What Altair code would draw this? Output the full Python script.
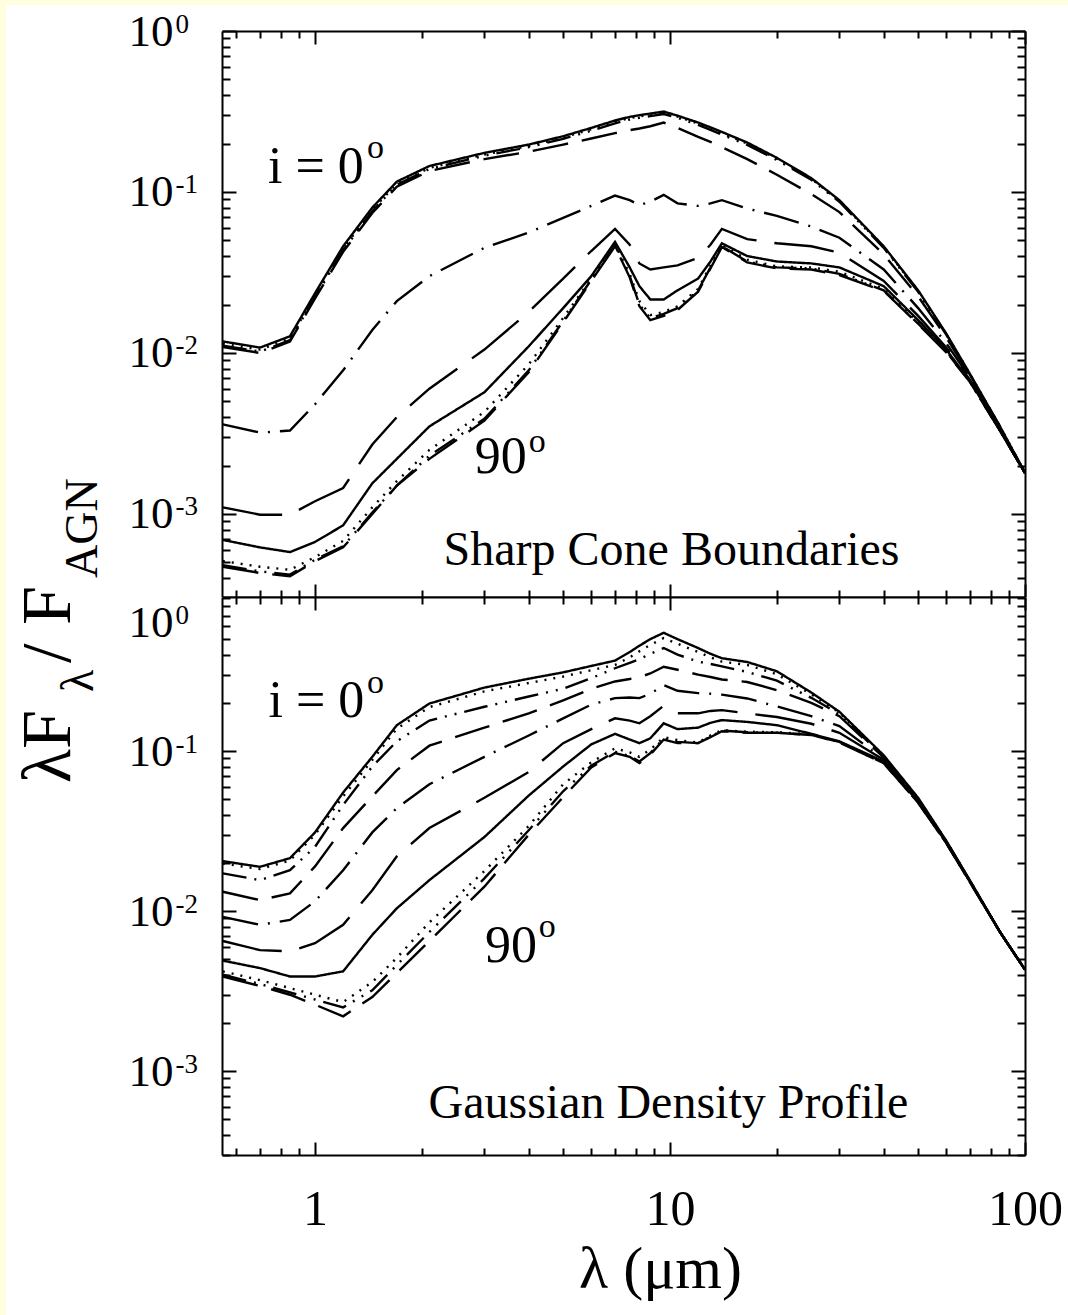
import altair as alt
import pandas as pd

SERIF = "Liberation Serif"

# ---------------- data ----------------
wavelength = [0.55, 0.7, 0.85, 1.0, 1.2, 1.45, 1.7, 2.1, 3.0, 4.0, 5.0, 6.0, 7.0, 7.7, 8.2, 8.8,
              9.6, 10.5, 12.0, 13.0, 14.0, 16.5, 20.0, 25.0, 30.0, 40.0, 50.0, 60.0, 70.0, 85.0, 100.0]
inclinations = ["0", "10", "20", "30", "40", "50", "60", "70", "80", "90"]

sharp_0 = [0.0118, 0.0108, 0.0127, 0.0235, 0.046, 0.080, 0.116, 0.145, 0.175, 0.197, 0.222, 0.250, 0.278, 0.293, 0.300, 0.307, 0.316, 0.298, 0.270, 0.252, 0.236, 0.203, 0.163, 0.122, 0.089, 0.046, 0.0245, 0.0132, 0.0074, 0.0035, 0.0018]
sharp_10 = [0.0114, 0.0105, 0.0123, 0.0228, 0.0445, 0.0775, 0.113, 0.141, 0.171, 0.193, 0.218, 0.245, 0.273, 0.288, 0.295, 0.302, 0.311, 0.294, 0.266, 0.248, 0.232, 0.200, 0.161, 0.121, 0.088, 0.0455, 0.0243, 0.0131, 0.0074, 0.0035, 0.0018]
sharp_20 = [0.0111, 0.0102, 0.0120, 0.0222, 0.0435, 0.076, 0.111, 0.139, 0.168, 0.190, 0.214, 0.240, 0.267, 0.282, 0.289, 0.296, 0.305, 0.289, 0.261, 0.243, 0.227, 0.196, 0.158, 0.119, 0.087, 0.045, 0.024, 0.013, 0.0073, 0.0035, 0.0018]
sharp_30 = [0.0109, 0.0100, 0.0118, 0.0218, 0.0425, 0.074, 0.108, 0.135, 0.160, 0.178, 0.197, 0.215, 0.232, 0.242, 0.248, 0.256, 0.270, 0.250, 0.220, 0.205, 0.190, 0.160, 0.128, 0.097, 0.075, 0.041, 0.0225, 0.0125, 0.0072, 0.0034, 0.0018]
sharp_40 = [0.0036, 0.0032, 0.0033, 0.0048, 0.0078, 0.0139, 0.021, 0.030, 0.045, 0.056, 0.069, 0.082, 0.095, 0.089, 0.083, 0.087, 0.096, 0.085, 0.082, 0.085, 0.089, 0.079, 0.071, 0.061, 0.052, 0.033, 0.019, 0.0115, 0.0070, 0.0034, 0.0018]
sharp_50 = [0.0011, 0.00099, 0.00099, 0.0012, 0.00145, 0.0027, 0.0040, 0.0060, 0.0105, 0.018, 0.029, 0.043, 0.059, 0.047, 0.036, 0.033, 0.034, 0.035, 0.039, 0.047, 0.059, 0.051, 0.048, 0.046, 0.042, 0.028, 0.017, 0.0108, 0.0068, 0.0033, 0.0018]
sharp_60 = [0.00069, 0.00062, 0.00058, 0.00067, 0.00085, 0.00155, 0.0022, 0.0035, 0.0057, 0.011, 0.019, 0.030, 0.049, 0.034, 0.026, 0.0215, 0.0215, 0.0245, 0.029, 0.037, 0.048, 0.040, 0.037, 0.036, 0.034, 0.026, 0.016, 0.0105, 0.0067, 0.0033, 0.0018]
sharp_70 = [0.00051, 0.00047, 0.00045, 0.00054, 0.00068, 0.0011, 0.0016, 0.0025, 0.0043, 0.0085, 0.0165, 0.029, 0.047, 0.031, 0.021, 0.0172, 0.018, 0.0195, 0.025, 0.035, 0.047, 0.038, 0.0345, 0.034, 0.032, 0.025, 0.0155, 0.0103, 0.0066, 0.0033, 0.0018]
sharp_80 = [0.00048, 0.00044, 0.00042, 0.00052, 0.00063, 0.00102, 0.0015, 0.0023, 0.0039, 0.0078, 0.0158, 0.0285, 0.0465, 0.030, 0.020, 0.0165, 0.0175, 0.019, 0.0245, 0.034, 0.046, 0.037, 0.034, 0.0335, 0.031, 0.0245, 0.0152, 0.0102, 0.0066, 0.0033, 0.0018]
sharp_90 = [0.00047, 0.00043, 0.00041, 0.00051, 0.00062, 0.00100, 0.0015, 0.0022, 0.0038, 0.0076, 0.0155, 0.028, 0.046, 0.0295, 0.0195, 0.016, 0.017, 0.0185, 0.024, 0.0335, 0.0455, 0.0365, 0.0335, 0.033, 0.0305, 0.0243, 0.0151, 0.0101, 0.0066, 0.0033, 0.0018]

gauss_0 = [0.0205, 0.0189, 0.0214, 0.031, 0.055, 0.092, 0.145, 0.198, 0.249, 0.283, 0.310, 0.340, 0.367, 0.415, 0.455, 0.500, 0.548, 0.500, 0.440, 0.405, 0.380, 0.360, 0.315, 0.232, 0.176, 0.094, 0.051, 0.0275, 0.0155, 0.0074, 0.0043]
gauss_10 = [0.0198, 0.0183, 0.0207, 0.030, 0.052, 0.088, 0.138, 0.188, 0.236, 0.266, 0.292, 0.320, 0.345, 0.385, 0.420, 0.460, 0.508, 0.468, 0.415, 0.385, 0.362, 0.345, 0.302, 0.226, 0.174, 0.093, 0.0505, 0.0274, 0.0155, 0.0074, 0.0043]
gauss_20 = [0.0172, 0.0156, 0.0180, 0.0252, 0.046, 0.080, 0.115, 0.155, 0.189, 0.219, 0.245, 0.285, 0.329, 0.355, 0.375, 0.405, 0.440, 0.400, 0.362, 0.350, 0.338, 0.312, 0.275, 0.215, 0.170, 0.092, 0.050, 0.0273, 0.0154, 0.0074, 0.0043]
gauss_30 = [0.0132, 0.0117, 0.0129, 0.019, 0.033, 0.052, 0.076, 0.108, 0.140, 0.172, 0.207, 0.245, 0.272, 0.282, 0.290, 0.305, 0.336, 0.322, 0.300, 0.290, 0.280, 0.270, 0.240, 0.200, 0.165, 0.091, 0.0495, 0.0272, 0.0154, 0.0074, 0.0043]
gauss_40 = [0.0092, 0.0082, 0.0088, 0.0115, 0.018, 0.031, 0.044, 0.062, 0.092, 0.125, 0.160, 0.195, 0.214, 0.216, 0.214, 0.228, 0.258, 0.238, 0.230, 0.228, 0.225, 0.213, 0.190, 0.165, 0.143, 0.089, 0.049, 0.0271, 0.0153, 0.0074, 0.0043]
gauss_50 = [0.0065, 0.0057, 0.0056, 0.0063, 0.0082, 0.0135, 0.022, 0.033, 0.051, 0.074, 0.112, 0.137, 0.160, 0.155, 0.149, 0.165, 0.192, 0.172, 0.172, 0.178, 0.180, 0.172, 0.163, 0.148, 0.130, 0.088, 0.0485, 0.027, 0.0153, 0.0074, 0.0043]
gauss_60 = [0.0049, 0.0044, 0.0039, 0.0039, 0.0042, 0.0071, 0.0104, 0.0156, 0.029, 0.0527, 0.080, 0.110, 0.128, 0.118, 0.112, 0.120, 0.149, 0.137, 0.140, 0.150, 0.156, 0.152, 0.145, 0.128, 0.115, 0.086, 0.048, 0.0268, 0.0152, 0.0074, 0.0043]
gauss_70 = [0.0042, 0.0037, 0.0033, 0.0030, 0.0027, 0.0036, 0.0051, 0.0085, 0.0178, 0.034, 0.062, 0.085, 0.104, 0.098, 0.092, 0.102, 0.122, 0.117, 0.113, 0.125, 0.135, 0.132, 0.131, 0.127, 0.114, 0.085, 0.0478, 0.0267, 0.0152, 0.0074, 0.0043]
gauss_80 = [0.0040, 0.0035, 0.0031, 0.0028, 0.0025, 0.0032, 0.0046, 0.0074, 0.016, 0.032, 0.056, 0.081, 0.099, 0.093, 0.086, 0.097, 0.120, 0.114, 0.112, 0.123, 0.134, 0.131, 0.130, 0.126, 0.114, 0.084, 0.0476, 0.0266, 0.0151, 0.0074, 0.0043]
gauss_90 = [0.0039, 0.0034, 0.0030, 0.0026, 0.0022, 0.0029, 0.0041, 0.0065, 0.0142, 0.030, 0.0515, 0.079, 0.097, 0.092, 0.084, 0.095, 0.118, 0.112, 0.112, 0.122, 0.133, 0.130, 0.130, 0.126, 0.113, 0.084, 0.0475, 0.0266, 0.0151, 0.0074, 0.0043]

x_major = [1, 10, 100]
x_minor = [0.6, 0.7, 0.8, 0.9] + [float(k) for k in range(2, 10)] + [float(10 * k) for k in range(2, 10)]
y_major = [1, 0.1, 0.01, 0.001, 0.0001]
y_minor = [round(k * 10.0 ** e, 8) for e in (-4, -3, -2, -1) for k in range(2, 10)]
top_label_values = [1, 0.1, 0.01, 0.001]
bottom_label_values = [0.631, 0.1, 0.01, 0.001]

# ---------------- styles ----------------
DASHES = [[1, 0], [2, 7], [24, 8, 2, 8, 2, 8], [36, 14], [36, 10, 2, 10], [60, 18],
          [1, 0], [2, 7], [24, 8, 2, 8, 2, 8], [36, 14]]
W = 803
H_TOP = 566
H_BOT = 558
X_DOMAIN = [0.547, 100]
TOP_DOMAIN = [3.05e-4, 1.0]
BOT_DOMAIN = [2.99e-4, 0.917]


def long_df(series):
    rows = []
    for ang, vals in zip(inclinations, series):
        for lam, v in zip(wavelength, vals):
            rows.append({"lam": lam, "val": v, "angle": ang})
    return pd.DataFrame(rows)


def tick_axis(orient, values, size, domain, offset):
    return alt.Axis(orient=orient, offset=offset, values=values, tickCount=500,
                    tickSize=size, tickWidth=2, tickColor="black",
                    domain=domain, domainWidth=2, domainColor="black",
                    labels=False, grid=False, title=None, zindex=1)


def panel(df, ydom, H, ann_left, ann_center, label_values, show_x_labels, bg_y0, bg_y1, extra):
    xs = alt.Scale(type="log", domain=X_DOMAIN, nice=False)
    ys = alt.Scale(type="log", domain=ydom, nice=False)
    base = alt.Chart(df)

    bg = alt.Chart(pd.DataFrame({"a": [0]})).mark_rect(color="white").encode(
        x=alt.value(-216), x2=alt.value(W + 43), y=alt.value(bg_y0), y2=alt.value(bg_y1))

    lines = base.mark_line(color="black", strokeWidth=2.4, clip=True).encode(
        x=alt.X("lam:Q", scale=xs, axis=tick_axis("top", x_major, 13, True, -H)),
        y=alt.Y("val:Q", scale=ys, axis=tick_axis("right", y_major, 14, True, -W)),
        strokeDash=alt.StrokeDash("angle:N", scale=alt.Scale(domain=inclinations, range=DASHES), legend=None),
    )
    l_a = base.mark_point(opacity=0).encode(
        x=alt.X("lam:Q", scale=xs, axis=tick_axis("top", x_minor, 7, False, -H)),
        y=alt.Y("val:Q", scale=ys, axis=tick_axis("right", y_minor, 8, False, -W)))
    l_b = base.mark_point(opacity=0).encode(
        x=alt.X("lam:Q", scale=xs, axis=tick_axis("bottom", x_major, 13, True, -H)),
        y=alt.Y("val:Q", scale=ys, axis=tick_axis("left", y_major, 14, True, -W)))
    l_c = base.mark_point(opacity=0).encode(
        x=alt.X("lam:Q", scale=xs, axis=tick_axis("bottom", x_minor, 7, False, -H)),
        y=alt.Y("val:Q", scale=ys, axis=tick_axis("left", y_minor, 8, False, -W)))

    if show_x_labels:
        xlab = alt.Axis(orient="bottom", values=x_major, tickCount=50, labelExpr="format(datum.value, 'd')",
                        labelFont=SERIF, labelFontSize=50, labelColor="black", labelBaseline="top",
                        labelPadding=29, labelFlush=False, labelOverlap=False,
                        ticks=False, tickSize=0, domain=False, grid=False,
                        title="λ (μm)", titleFont=SERIF, titleFontSize=60, titleFontWeight="normal",
                        titleColor="black", titleX=438, titlePadding=6, zindex=1)
    else:
        xlab = None
    l_d = base.mark_point(opacity=0).encode(
        x=alt.X("lam:Q", scale=xs, axis=xlab),
        y=alt.Y("val:Q", scale=ys, axis=alt.Axis(
            orient="left", values=label_values, tickCount=50, labelExpr="'10'",
            labelFont=SERIF, labelFontSize=45, labelColor="black", labelAlign="left",
            labelBaseline="middle", labelPadding=94, labelOverlap=False, labelFlush=False,
            ticks=False, tickSize=0, domain=False, grid=False, title=None, zindex=1)))
    l_e = base.mark_point(opacity=0).encode(
        x=alt.X("lam:Q", scale=xs, axis=None),
        y=alt.Y("val:Q", scale=ys, axis=alt.Axis(
            orient="left", values=label_values, tickCount=50,
            labelExpr="datum.value >= 0.5 ? '0' : '-' + round(-log(datum.value) / LN10)",
            labelFont=SERIF, labelFontSize=27, labelColor="black", labelAlign="left",
            labelBaseline="middle", labelPadding=47, labelOffset=-7, labelOverlap=False, labelFlush=False,
            ticks=False, tickSize=0, domain=False, grid=False, title=None, zindex=1)))

    t_left = alt.Chart(ann_left).mark_text(font=SERIF, color="black", align="left", baseline="alphabetic").encode(
        x=alt.X("lam:Q", scale=xs, axis=None), y=alt.Y("val:Q", scale=ys, axis=None),
        text="text:N", size=alt.Size("size:Q", scale=None, legend=None))
    t_center = alt.Chart(ann_center).mark_text(font=SERIF, color="black", align="center", baseline="alphabetic", fontSize=48).encode(
        x=alt.X("lam:Q", scale=xs, axis=None), y=alt.Y("val:Q", scale=ys, axis=None), text="text:N")

    layers = [bg, lines, l_a, l_b, l_c, l_d, l_e, t_left, t_center] + extra
    return alt.layer(*layers).resolve_axis(x="independent", y="independent").properties(width=W, height=H)


top_left_text = pd.DataFrame({
    "text": ["i = 0", "o", "90", "o"],
    "lam": [0.737, 1.40, 2.82, 4.0],
    "val": [0.114, 0.163, 0.0018, 0.00243],
    "size": [52, 34, 52, 34],
})
top_center_text = pd.DataFrame({"text": ["Sharp Cone Boundaries"], "lam": [10.1], "val": [4.8e-4]})
bot_left_text = pd.DataFrame({
    "text": ["i = 0", "o", "90", "o"],
    "lam": [0.74, 1.40, 3.01, 4.27],
    "val": [0.163, 0.23, 0.0048, 0.00688],
    "size": [52, 34, 52, 34],
})
bot_center_text = pd.DataFrame({"text": ["Gaussian Density Profile"], "lam": [9.9], "val": [5.1e-4]})

# y-axis title, composed of pieces (main text + subscripts), rotated
title_pieces = [("λF", 70, -152, 186), ("λ", 46, -129, 95), ("/", 70, -152, 66),
                ("F", 70, -152, 28), ("AGN", 46, -125, -19)]
one = pd.DataFrame({"a": [0]})
ytitle = [alt.Chart(one).mark_text(text=t, font=SERIF, fontSize=s, angle=270, align="left",
                                   baseline="alphabetic", color="black").encode(x=alt.value(px), y=alt.value(py))
          for t, s, px, py in title_pieces]

top_df = long_df([sharp_0, sharp_10, sharp_20, sharp_30, sharp_40, sharp_50, sharp_60, sharp_70, sharp_80, sharp_90])
bot_df = long_df([gauss_0, gauss_10, gauss_20, gauss_30, gauss_40, gauss_50, gauss_60, gauss_70, gauss_80, gauss_90])

top = panel(top_df, TOP_DOMAIN, H_TOP, top_left_text, top_center_text, top_label_values, False, -26, H_TOP, [])
bottom = panel(bot_df, BOT_DOMAIN, H_BOT, bot_left_text, bot_center_text, bottom_label_values, True, 0, H_BOT + 160, ytitle)

chart = alt.vconcat(top, bottom, spacing=0, bounds="flush").properties(
    background="#FFFFE0",
    padding={"left": 6, "top": 5, "right": 0, "bottom": 0},
).configure_view(stroke=None)

chart.save("out.html", embed_options={"renderer": "svg", "actions": False})
